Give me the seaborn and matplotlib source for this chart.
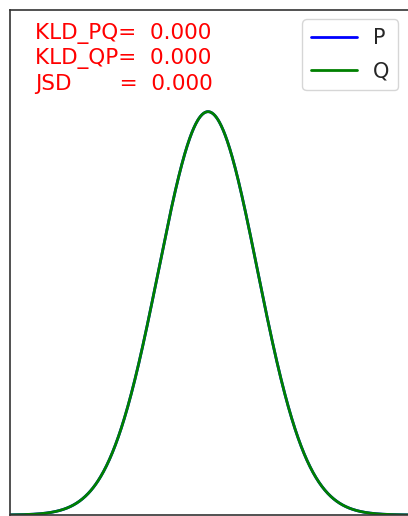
import numpy as np
import pandas as pd
import matplotlib
matplotlib.use("Agg")
import matplotlib.pyplot as plt
import seaborn as sns

# Two normal distributions being compared
dist_names = ["P", "Q"]
dist_means = [0.0, 0.0]
dist_stds = [1.0, 1.0]
line_colors = ["blue", "green"]
x_range = [-4.0, 4.1]
y_range = [0.0, 0.5]

sns.set_style("white")
plt.rcParams["font.family"] = ["DejaVu Sans"]

xs = np.linspace(x_range[0], x_range[1], 811)


def normal_pdf(x, mu, sd):
    return np.exp(-0.5 * ((x - mu) / sd) ** 2) / (sd * np.sqrt(2 * np.pi))


frames = []
for name, mu, sd in zip(dist_names, dist_means, dist_stds):
    frames.append(pd.DataFrame({"x": xs, "density": normal_pdf(xs, mu, sd), "dist": name}))
df = pd.concat(frames, ignore_index=True)

# Divergences between the two densities
p = normal_pdf(xs, dist_means[0], dist_stds[0])
q = normal_pdf(xs, dist_means[1], dist_stds[1])
dx = xs[1] - xs[0]
kld_pq = np.sum(p * np.log(p / q)) * dx
kld_qp = np.sum(q * np.log(q / p)) * dx
m = 0.5 * (p + q)
jsd = 0.5 * np.sum(p * np.log(p / m)) * dx + 0.5 * np.sum(q * np.log(q / m)) * dx

fig = plt.figure(figsize=(4.08, 5.16), dpi=100)
ax = fig.add_axes([10 / 408, 1 / 516, 401 / 408, 505.5 / 516])

sns.lineplot(data=df, x="x", y="density", hue="dist", palette=line_colors,
             linewidth=2, ax=ax)

ax.set_xlim(*x_range)
ax.set_ylim(*y_range)
ax.set_xticks([])
ax.set_yticks([])
ax.set_xlabel("")
ax.set_ylabel("")
for s in ax.spines.values():
    s.set_color("#333333")
    s.set_linewidth(1.2)

ax.text(-3.5, 0.487,
        f"KLD_PQ=  {abs(kld_pq):.3f}\nKLD_QP=  {abs(kld_qp):.3f}\nJSD       =  {abs(jsd):.3f}",
        color="red", fontsize=15.5, va="top", ha="left", linespacing=1.3)

ax.legend(loc="upper right", fontsize=15, title=None, handlelength=2.2,
          labelspacing=0.65, borderaxespad=0,
          bbox_to_anchor=((398 - 10) / 401, 1 - 10 / 505.5))

fig.savefig("out.png", dpi=100)
